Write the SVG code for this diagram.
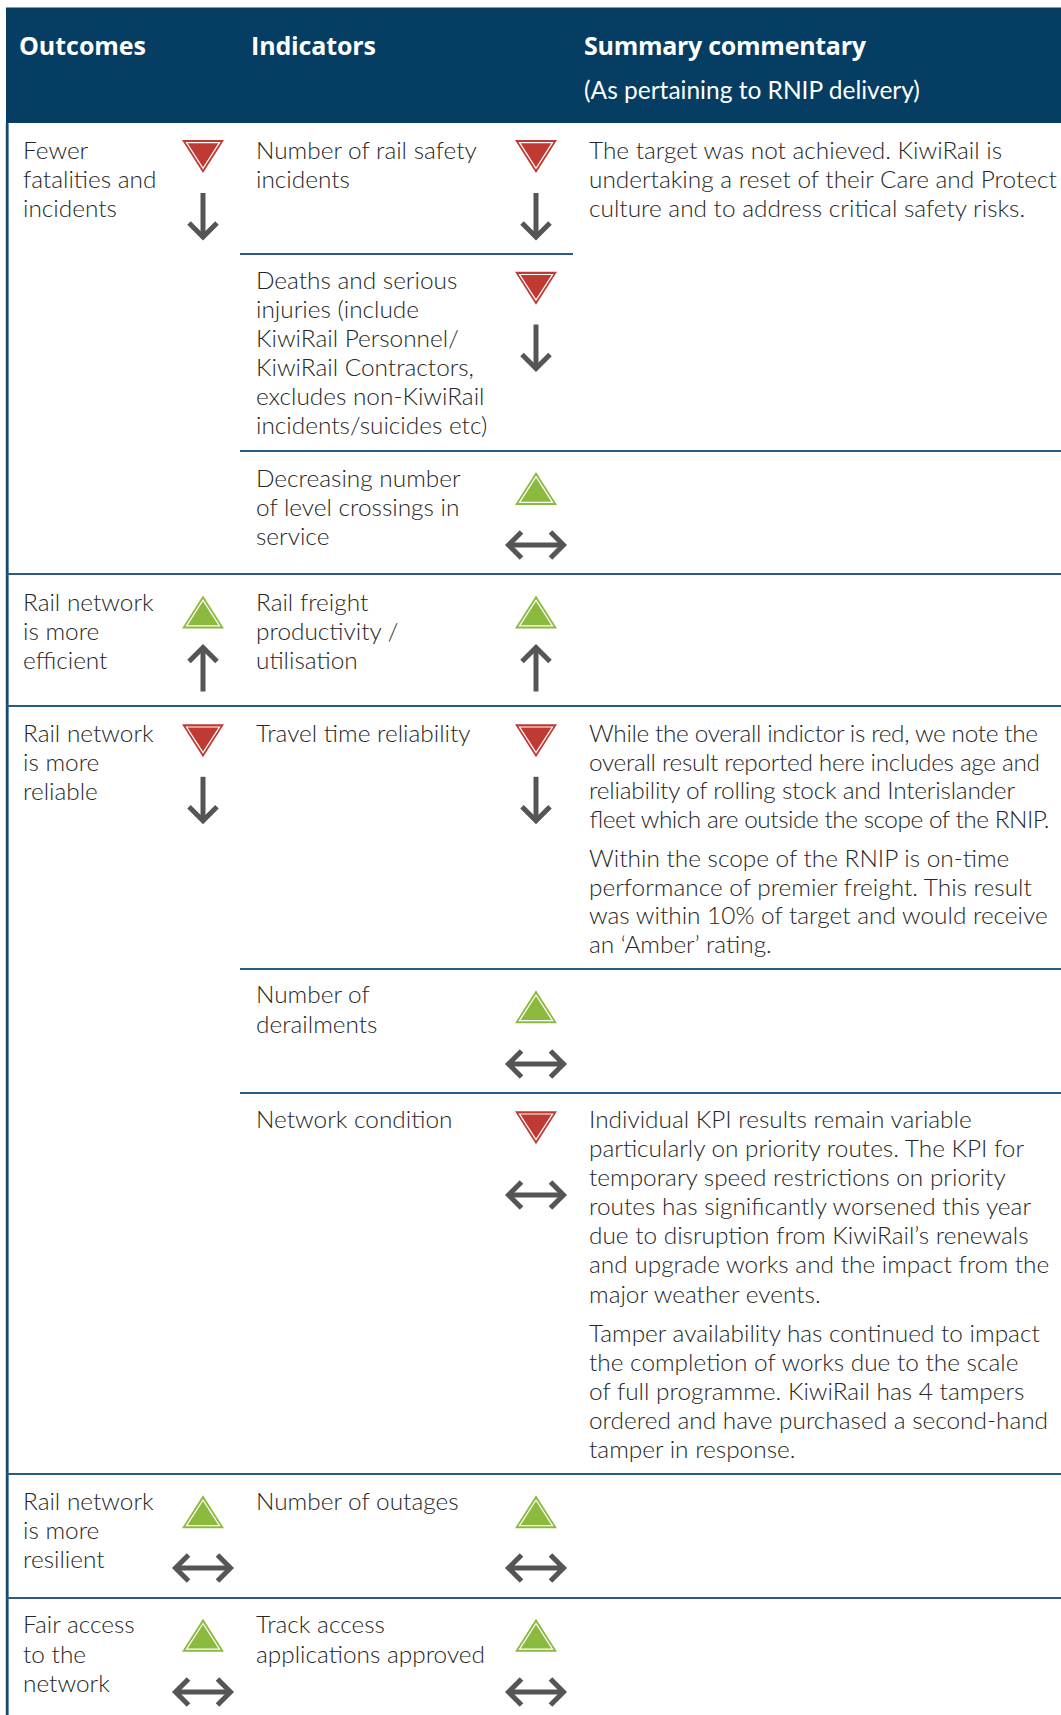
<svg xmlns="http://www.w3.org/2000/svg" xmlns:xlink="http://www.w3.org/1999/xlink" width="1061" height="1715" viewBox="0 0 1061 1715">
<style>
.hd{font-family:"Open Sans",Lato,"Liberation Sans",sans-serif;font-weight:bold;font-size:25px;fill:#fff}
.hs{font-family:Lato,"Liberation Sans",sans-serif;font-size:24.5px;fill:#fff}
.t{font-family:Lato,"Liberation Sans",sans-serif;font-weight:300;font-size:24.4px;fill:#262626}
.rule{stroke:#2a5b82;stroke-width:1.8;fill:none}
.arw{stroke:#555;stroke-width:5;fill:none;stroke-linejoin:miter}
</style>
<defs>
<g id="tri-red"><polygon points="-21,-16.5 21,-16.5 0,16.5" fill="#bf3a33"/><polygon points="-16.5,-13.8 16.5,-13.8 0,11.8" fill="none" stroke="#fff" stroke-width="1.2"/></g>
<g id="tri-green"><polygon points="0,-16.5 21,16.5 -21,16.5" fill="#8cba3f"/><polygon points="0,-11.8 16.5,13.8 -16.5,13.8" fill="none" stroke="#fff" stroke-width="1.2"/></g>
<g id="arr-down" class="arw"><line x1="0" y1="-22.5" x2="0" y2="20"/><polyline points="-14,7.5 0,21.5 14,7.5"/></g>
<g id="arr-up" class="arw"><line x1="0" y1="22.5" x2="0" y2="-20"/><polyline points="-14,-7.5 0,-21.5 14,-7.5"/></g>
<g id="arr-both" class="arw"><line x1="-27" y1="0" x2="27" y2="0"/><polyline points="-14.5,-13 -27.5,0 -14.5,13"/><polyline points="14.5,-13 27.5,0 14.5,13"/></g>
</defs>
<rect width="1061" height="1715" fill="#fff"/>
<g id="header">
<rect x="6" y="7.5" width="1055" height="115.5" fill="#053d63"/>
<text class="hd" x="19" y="55" textLength="127">Outcomes</text>
<text class="hd" x="251" y="55" textLength="125">Indicators</text>
<text class="hd" x="584" y="55" textLength="282">Summary commentary</text>
<text class="hs" x="584" y="99">(As pertaining to RNIP delivery)</text>
</g>
<g id="connectors">
<line class="rule" x1="7.2" y1="123" x2="7.2" y2="1715" style="stroke:#154a73;stroke-width:2.8"/>
<line class="rule" x1="240" y1="254" x2="573" y2="254"/>
<line class="rule" x1="240" y1="451" x2="1061" y2="451"/>
<line class="rule" x1="7" y1="574" x2="1061" y2="574"/>
<line class="rule" x1="7" y1="706" x2="1061" y2="706"/>
<line class="rule" x1="240" y1="969" x2="1061" y2="969"/>
<line class="rule" x1="240" y1="1093" x2="1061" y2="1093"/>
<line class="rule" x1="7" y1="1474" x2="1061" y2="1474"/>
<line class="rule" x1="7" y1="1598" x2="1061" y2="1598"/>
</g>
<g id="outcome-safety">
<text class="t" x="23" y="159">Fewer</text>
<text class="t" x="23" y="188">fatalities and</text>
<text class="t" x="23" y="217">incidents</text>
<use xlink:href="#tri-red" x="203" y="156.5"/>
<use xlink:href="#arr-down" x="203" y="215.5"/>
</g>
<g id="indicator-rail-safety-incidents">
<text class="t" x="256" y="159">Number of rail safety</text>
<text class="t" x="256" y="188">incidents</text>
<use xlink:href="#tri-red" x="536" y="156.5"/>
<use xlink:href="#arr-down" x="536" y="215.5"/>
<text class="t" x="589" y="159">The target was not achieved. KiwiRail is</text>
<text class="t" x="589" y="188">undertaking a reset of their Care and Protect</text>
<text class="t" x="589" y="217">culture and to address critical safety risks.</text>
</g>
<g id="indicator-deaths">
<text class="t" x="256" y="289.3">Deaths and serious</text>
<text class="t" x="256" y="318.3">injuries (include</text>
<text class="t" x="256" y="347.3">KiwiRail Personnel/</text>
<text class="t" x="256" y="376.3">KiwiRail Contractors,</text>
<text class="t" x="256" y="405.3">excludes non-KiwiRail</text>
<text class="t" x="256" y="434.3">incidents/suicides etc)</text>
<use xlink:href="#tri-red" x="536" y="288.3"/>
<use xlink:href="#arr-down" x="536" y="347"/>
</g>
<g id="indicator-level-crossings">
<text class="t" x="256" y="487.3">Decreasing number</text>
<text class="t" x="256" y="516.3">of level crossings in</text>
<text class="t" x="256" y="545.3">service</text>
<use xlink:href="#tri-green" x="536" y="488.5"/>
<use xlink:href="#arr-both" x="536" y="545"/>
</g>
<g id="outcome-efficient">
<text class="t" x="23" y="610.7">Rail network</text>
<text class="t" x="23" y="640">is more</text>
<text class="t" x="23" y="669">efficient</text>
<use xlink:href="#tri-green" x="203" y="612"/>
<use xlink:href="#arr-up" x="203" y="669"/>
</g>
<g id="indicator-freight">
<text class="t" x="256" y="610.7">Rail freight</text>
<text class="t" x="256" y="640">productivity /</text>
<text class="t" x="256" y="669">utilisation</text>
<use xlink:href="#tri-green" x="536" y="612"/>
<use xlink:href="#arr-up" x="536" y="669"/>
</g>
<g id="outcome-reliable">
<text class="t" x="23" y="741.7">Rail network</text>
<text class="t" x="23" y="771">is more</text>
<text class="t" x="23" y="800">reliable</text>
<use xlink:href="#tri-red" x="203" y="740.8"/>
<use xlink:href="#arr-down" x="203" y="799.3"/>
</g>
<g id="indicator-travel-time">
<text class="t" x="256" y="741.7">Travel time reliability</text>
<use xlink:href="#tri-red" x="536" y="740.8"/>
<use xlink:href="#arr-down" x="536" y="799.3"/>
<text class="t" x="589" y="741.7" textLength="449">While the overall indictor is red, we note the</text>
<text class="t" x="589" y="770.5" textLength="451">overall result reported here includes age and</text>
<text class="t" x="589" y="799.3" textLength="426">reliability of rolling stock and Interislander</text>
<text class="t" x="589" y="828.3" textLength="460">fleet which are outside the scope of the RNIP.</text>
<text class="t" x="589" y="866.7">Within the scope of the RNIP is on-time</text>
<text class="t" x="589" y="895.5">performance of premier freight. This result</text>
<text class="t" x="589" y="924.3">was within 10% of target and would receive</text>
<text class="t" x="589" y="953.3">an ‘Amber’ rating.</text>
</g>
<g id="indicator-derailments">
<text class="t" x="256" y="1003.3">Number of</text>
<text class="t" x="256" y="1033.3">derailments</text>
<use xlink:href="#tri-green" x="536" y="1006.8"/>
<use xlink:href="#arr-both" x="536" y="1064"/>
</g>
<g id="indicator-network-condition">
<text class="t" x="256" y="1128.3">Network condition</text>
<use xlink:href="#tri-red" x="536" y="1127.8"/>
<use xlink:href="#arr-both" x="536" y="1195"/>
<text class="t" x="589" y="1128.3">Individual KPI results remain variable</text>
<text class="t" x="589" y="1157">particularly on priority routes. The KPI for</text>
<text class="t" x="589" y="1186">temporary speed restrictions on priority</text>
<text class="t" x="589" y="1215">routes has significantly worsened this year</text>
<text class="t" x="589" y="1244">due to disruption from KiwiRail’s renewals</text>
<text class="t" x="589" y="1273">and upgrade works and the impact from the</text>
<text class="t" x="589" y="1302.5">major weather events.</text>
<text class="t" x="589" y="1341.7">Tamper availability has continued to impact</text>
<text class="t" x="589" y="1370.7">the completion of works due to the scale</text>
<text class="t" x="589" y="1399.7">of full programme. KiwiRail has 4 tampers</text>
<text class="t" x="589" y="1428.7">ordered and have purchased a second-hand</text>
<text class="t" x="589" y="1458.3">tamper in response.</text>
</g>
<g id="outcome-resilient">
<text class="t" x="23" y="1510">Rail network</text>
<text class="t" x="23" y="1539.3">is more</text>
<text class="t" x="23" y="1568.3">resilient</text>
<use xlink:href="#tri-green" x="203" y="1511.8"/>
<use xlink:href="#arr-both" x="203" y="1568"/>
</g>
<g id="indicator-outages">
<text class="t" x="256" y="1510">Number of outages</text>
<use xlink:href="#tri-green" x="536" y="1511.8"/>
<use xlink:href="#arr-both" x="536" y="1568"/>
</g>
<g id="outcome-fair-access">
<text class="t" x="23" y="1633.3">Fair access</text>
<text class="t" x="23" y="1662.7">to the</text>
<text class="t" x="23" y="1691.7">network</text>
<use xlink:href="#tri-green" x="203" y="1635.3"/>
<use xlink:href="#arr-both" x="203" y="1692"/>
</g>
<g id="indicator-track-access">
<text class="t" x="256" y="1633.3">Track access</text>
<text class="t" x="256" y="1662.7">applications approved</text>
<use xlink:href="#tri-green" x="536" y="1635.3"/>
<use xlink:href="#arr-both" x="536" y="1692"/>
</g>
</svg>
